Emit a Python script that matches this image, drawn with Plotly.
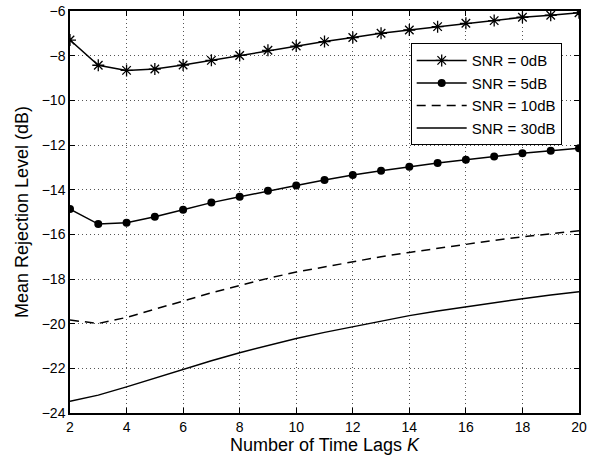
import plotly.graph_objects as go

K = list(range(2, 21))
snr0 = [-7.30, -8.43, -8.66, -8.60, -8.42, -8.21, -7.99, -7.76, -7.57, -7.37,
        -7.19, -7.00, -6.85, -6.70, -6.55, -6.43, -6.28, -6.19, -6.08]
snr5 = [-14.87, -15.54, -15.48, -15.21, -14.90, -14.58, -14.32, -14.05, -13.81, -13.57,
        -13.34, -13.15, -12.97, -12.81, -12.66, -12.51, -12.37, -12.26, -12.15]
snr10 = [-19.84, -19.99, -19.72, -19.35, -18.97, -18.62, -18.29, -17.97, -17.69, -17.45,
         -17.22, -17.00, -16.81, -16.62, -16.43, -16.27, -16.11, -15.97, -15.84]
snr30 = [-23.48, -23.20, -22.83, -22.44, -22.03, -21.66, -21.30, -20.97, -20.66, -20.39,
         -20.14, -19.88, -19.64, -19.43, -19.24, -19.05, -18.88, -18.72, -18.57]
names = ["SNR = 0dB", "SNR = 5dB", "SNR = 10dB", "SNR = 30dB"]

FONT = "Liberation Sans, Arial, Helvetica, sans-serif"

fig = go.Figure()
fig.add_trace(go.Scatter(x=K, y=snr0, name=names[0], mode="lines+markers",
                         line=dict(color="black", width=1.5),
                         marker=dict(symbol="asterisk-open", size=10,
                                     line=dict(color="black", width=1.3))))
fig.add_trace(go.Scatter(x=K, y=snr5, name=names[1], mode="lines+markers",
                         line=dict(color="black", width=1.5),
                         marker=dict(symbol="circle", size=8, color="black")))
fig.add_trace(go.Scatter(x=K, y=snr10, name=names[2], mode="lines",
                         line=dict(color="black", width=1.5, dash="9px,6px")))
fig.add_trace(go.Scatter(x=K, y=snr30, name=names[3], mode="lines",
                         line=dict(color="black", width=1.5)))

axis_common = dict(
    showline=True, linecolor="black", linewidth=1.5, mirror="ticks",
    ticks="inside", ticklen=5, tickcolor="black", tickwidth=1,
    showgrid=True, gridcolor="#555555", gridwidth=1, griddash="1px,3px",
    zeroline=False, automargin=False,
    tickfont=dict(family=FONT, size=14, color="black"),
)

fig.update_xaxes(range=[2, 20], tickmode="array", tickvals=list(range(2, 21, 2)),
                 title=dict(text="Number of Time Lags <i>K</i>", standoff=1,
                            font=dict(family=FONT, size=18, color="black")),
                 **axis_common)
fig.update_yaxes(range=[-24, -6], tickmode="array", tickvals=list(range(-24, -5, 2)),
                 title=dict(text="Mean Rejection Level (dB)", standoff=8,
                            font=dict(family=FONT, size=18, color="black")),
                 **axis_common)

fig.update_layout(
    width=597, height=459,
    margin=dict(l=70, r=18, t=11, b=46),
    plot_bgcolor="white", paper_bgcolor="white",
    font=dict(family=FONT, size=14, color="black"),
    legend=dict(x=0.966, y=0.92, xanchor="right", yanchor="top",
                bgcolor="white", bordercolor="black", borderwidth=1,
                font=dict(family=FONT, size=15, color="black"),
                tracegroupgap=0, itemwidth=50),
    showlegend=True,
)

fig.write_html("out.html", config={"displayModeBar": False},
               post_script="document.body.style.margin='0';document.body.style.overflow='hidden';")
